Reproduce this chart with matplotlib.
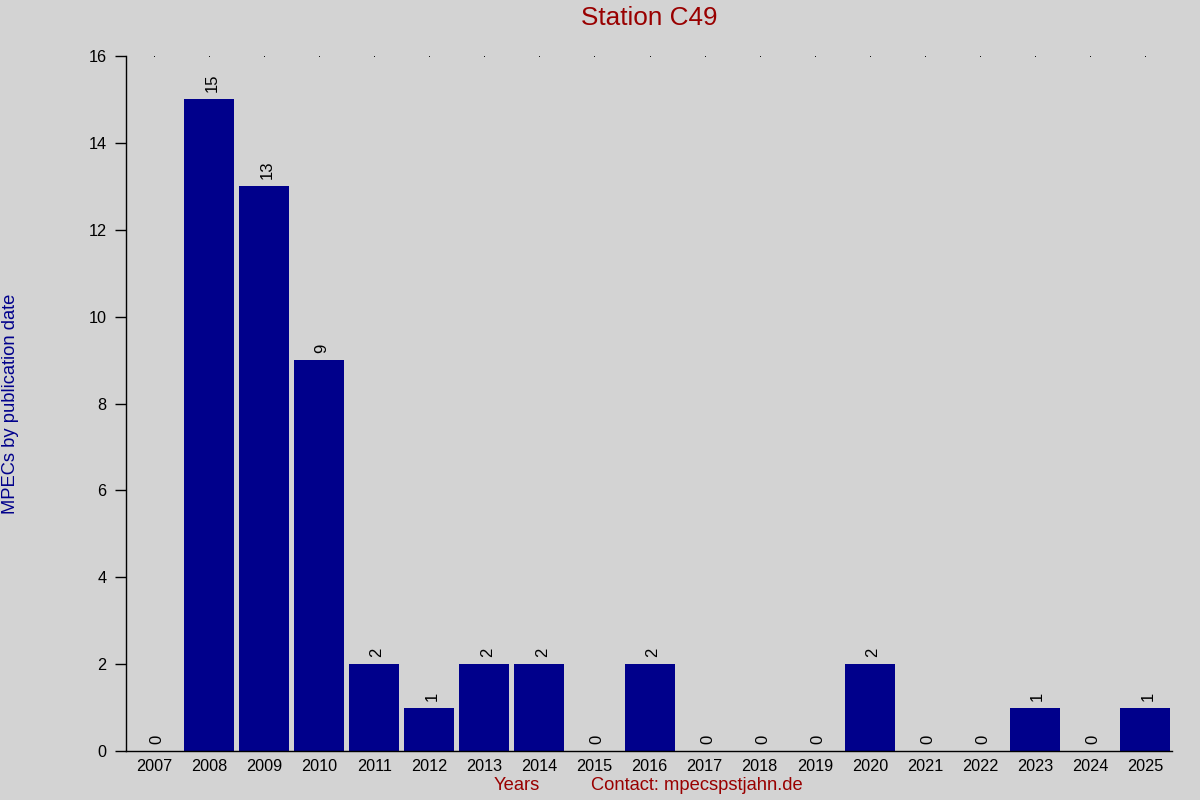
import matplotlib
matplotlib.use("Agg")
import matplotlib.pyplot as plt

years = [str(y) for y in range(2007, 2026)]
counts = [0, 15, 13, 9, 2, 1, 2, 2, 0, 2, 0, 0, 0, 2, 0, 0, 1, 0, 1]
yticks = [0, 2, 4, 6, 8, 10, 12, 14, 16]

plt.rcParams['font.family'] = ['Liberation Sans', 'DejaVu Sans']

bg = '#d3d3d3'
fig = plt.figure(figsize=(12, 8), dpi=100, facecolor=bg)
ax = fig.add_axes([126/1200, 1 - 751/800, (1172 - 126)/1200, (751 - 56)/800])
ax.set_facecolor(bg)

x = list(range(len(years)))
ax.bar(x, counts, width=0.91, color='#00008b')
for xi, c in zip(x, counts):
    ax.annotate(str(c), (xi, c), xytext=(2, 5), textcoords='offset points',
                ha='center', va='bottom', rotation=90, fontsize=12, color='black')

ax.plot(x, [16] * len(x), linestyle='none', marker='s', markersize=0.6,
        markeredgewidth=0, color='black')

ax.set_xlim(-0.51, len(years) - 0.51)
ax.set_ylim(0, 16)
ax.set_yticks(yticks)
ax.set_yticklabels([str(v) for v in yticks], fontsize=11.7)
ax.set_xticks(x)
ax.set_xticklabels(years, fontsize=11.7)
ax.tick_params(axis='x', length=0, pad=6)
ax.tick_params(axis='y', length=8, width=1, direction='out', pad=6)
for s in ['top', 'right']:
    ax.spines[s].set_visible(False)
ax.spines['left'].set_linewidth(1)
ax.spines['bottom'].set_linewidth(1)

fig.text(649/1200, 1 - 18/800, 'Station C49', ha='center', va='center',
         fontsize=18.8, color='#990000')
fig.text(11/1200, 1 - 404/800, 'MPECs by publication date', ha='center', va='center',
         rotation=90, fontsize=13.2, color='#00008b')
fig.text(517/1200, 1 - 786/800, 'Years', ha='center', va='center',
         fontsize=13.2, color='#990000')
fig.text(697/1200, 1 - 786/800, 'Contact: mpecspstjahn.de', ha='center', va='center',
         fontsize=13.2, color='#990000')

fig.savefig('out.png', dpi=100, facecolor=bg)
